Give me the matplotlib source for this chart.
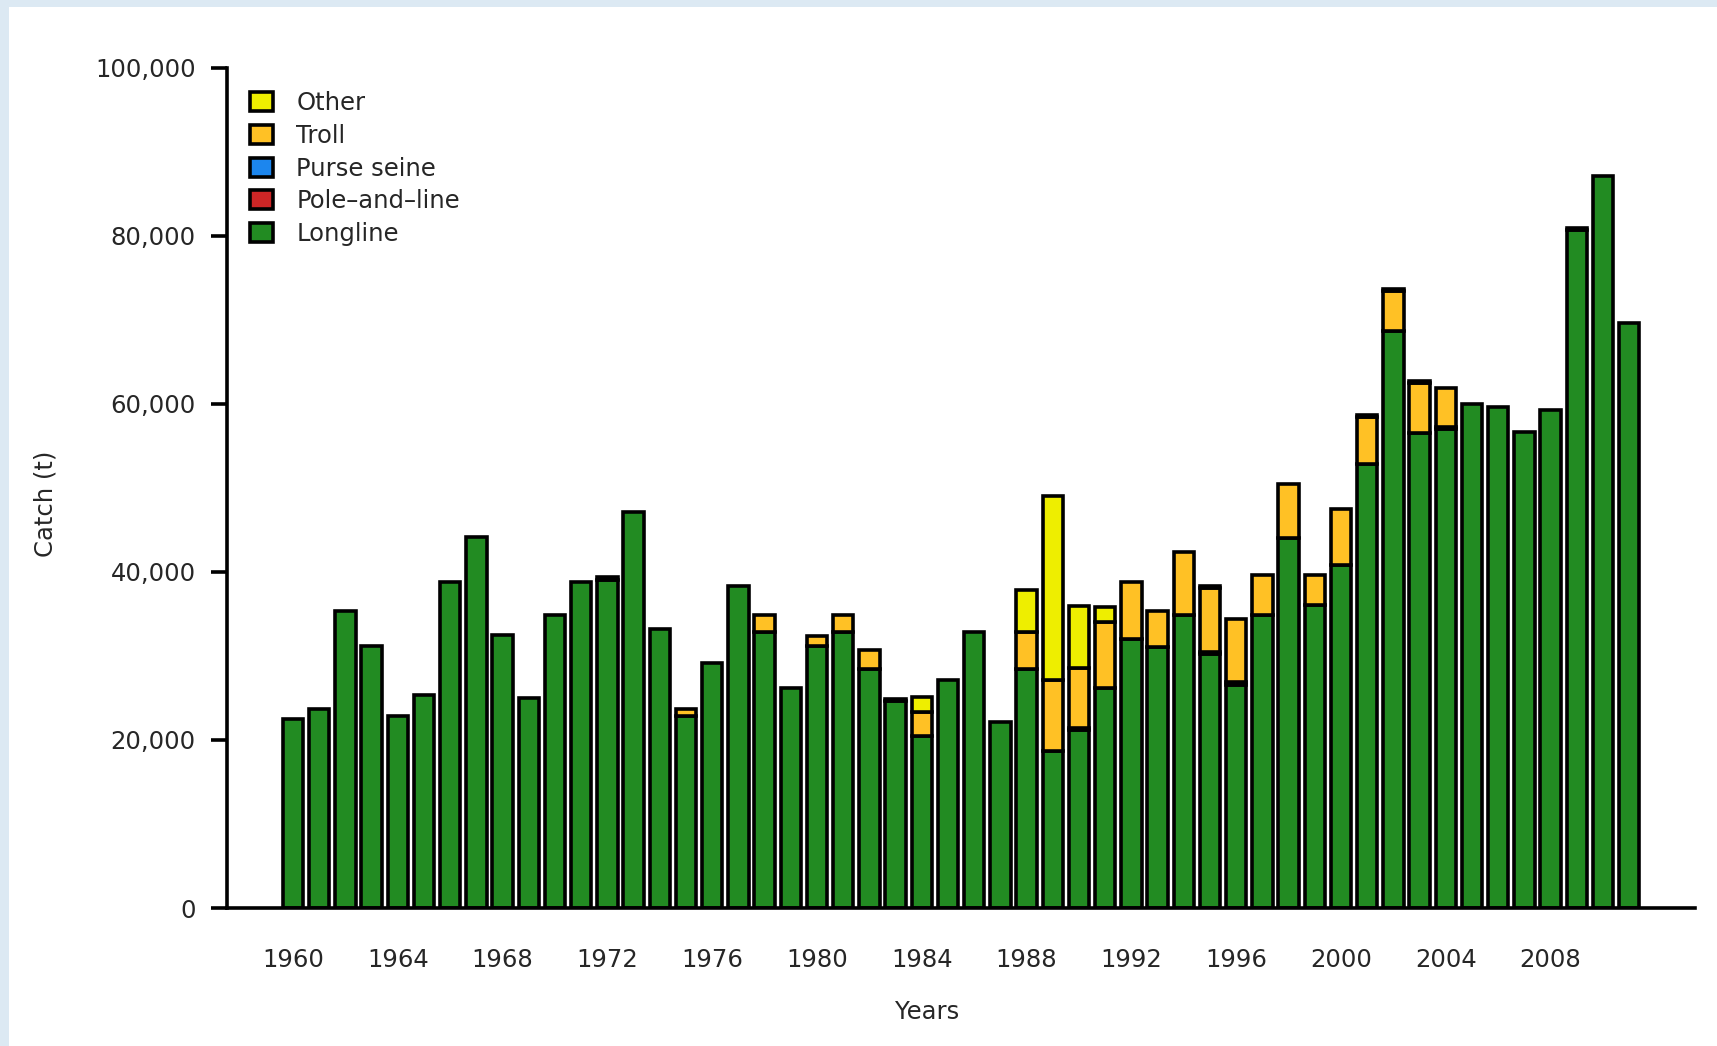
import matplotlib
matplotlib.use("Agg")
import matplotlib.pyplot as plt
from matplotlib.patches import Patch, Rectangle
import numpy as np

years = list(range(1960, 2012))

longline = [22500, 23700, 35400, 31200, 22900, 25400, 38800, 44200, 32500, 25000,
            34900, 38800, 39100, 47100, 33200, 22900, 29200, 38300, 32900, 26200,
            31200, 32900, 28400, 24600, 20500, 27100, 32900, 22100, 28400, 18700,
            21200, 26200, 32000, 31100, 34900, 30200, 26600, 34900, 44100, 36100,
            40800, 52900, 68700, 56600, 57000, 60000, 59600, 56700, 59300, 80700,
            87200, 69700]
pole_and_line = [0, 0, 0, 0, 0, 0, 0, 0, 0, 0,
                 0, 0, 250, 0, 0, 0, 0, 0, 0, 0,
                 0, 0, 0, 250, 0, 0, 0, 0, 0, 0,
                 250, 0, 0, 0, 0, 250, 250, 0, 0, 0,
                 0, 0, 0, 0, 250, 0, 0, 0, 0, 250,
                 0, 0]
purse_seine = [0] * 52
troll = [0, 0, 0, 0, 0, 0, 0, 0, 0, 0,
         0, 0, 0, 0, 0, 800, 0, 0, 2000, 0,
         1200, 2000, 2300, 0, 2800, 0, 0, 0, 4500, 8400,
         7100, 7900, 6800, 4300, 7500, 7600, 7600, 4800, 6400, 3600,
         6700, 5500, 4700, 5900, 4700, 0, 0, 0, 0, 0,
         0, 0]
other = [0, 0, 0, 0, 0, 0, 0, 0, 0, 0,
         0, 0, 0, 0, 0, 0, 0, 0, 0, 0,
         0, 0, 0, 0, 1800, 0, 0, 0, 5000, 22000,
         7400, 1700, 0, 0, 0, 250, 0, 0, 0, 0,
         0, 250, 250, 250, 0, 0, 0, 0, 0, 0,
         0, 0]

series_names = ["Longline", "Pole\u2013and\u2013line", "Purse seine", "Troll", "Other"]
series_values = [longline, pole_and_line, purse_seine, troll, other]
series_colors = ["#228B22", "#CD2626", "#1C86EE", "#FFC125", "#EEEE00"]

yticks = [0, 20000, 40000, 60000, 80000, 100000]
xtick_years = list(range(1960, 2009, 4))

W, H = 1717, 1046
fig = plt.figure(figsize=(W / 100, H / 100), dpi=100)
fig.patch.set_facecolor("#dce9f3")
fig.patches.append(Rectangle((9 / W, 0), 1 - 9 / W, 1 - 7 / H, transform=fig.transFigure,
                             facecolor="white", edgecolor="none", zorder=-10))

ax = fig.add_axes([227 / W, (H - 908) / H, (1695 - 227) / W, (908 - 68) / H])
ax.set_facecolor("none")
ax.set_zorder(1)

txt = "#262626"
fs = 17.5
lw = 2.6

x = np.array(years)
bottom = np.zeros(len(years))
for name, vals, col in zip(series_names, series_values, series_colors):
    v = np.array(vals, dtype=float)
    mask = v > 0
    ax.bar(x[mask], v[mask], bottom=bottom[mask], width=0.78, color=col,
           edgecolor="black", linewidth=lw, zorder=2)
    bottom += v

ax.set_xlim(1960 + (227 - 293) / 26.2, 1960 + (1695 - 293) / 26.2)
ax.set_ylim(0, 100000)

for s in ["top", "right"]:
    ax.spines[s].set_visible(False)
for s in ["left", "bottom"]:
    ax.spines[s].set_linewidth(lw)
    ax.spines[s].set_color("black")
ax.spines["bottom"].set_zorder(3)

ax.set_yticks(yticks)
ax.set_yticklabels([f"{v:,}" for v in yticks])
ax.tick_params(axis="y", length=11.5, width=lw, pad=11, labelsize=fs, labelcolor=txt)
ax.set_xticks(xtick_years)
ax.set_xticklabels([str(y) for y in xtick_years])
ax.tick_params(axis="x", length=0, pad=28.5, labelsize=fs, labelcolor=txt)

fig.text(927 / W, 1 - 1012 / H, "Years", ha="center", va="center", fontsize=fs, color=txt)
fig.text(46 / W, 1 - 504 / H, "Catch (t)", ha="center", va="center", rotation=90,
         fontsize=fs, color=txt)

handles = [Patch(facecolor=c, edgecolor="black", linewidth=lw)
           for c in series_colors[::-1]]
ax.legend(handles, series_names[::-1], loc="upper left",
          bbox_to_anchor=(250 / W, 1 - 91 / H), bbox_transform=fig.transFigure,
          frameon=False, fontsize=fs, labelcolor=txt, borderpad=0, borderaxespad=0,
          handlelength=0.95, handleheight=0.82, handletextpad=0.95, labelspacing=0.36)

fig.savefig("out.png", dpi=100, facecolor=fig.get_facecolor())
